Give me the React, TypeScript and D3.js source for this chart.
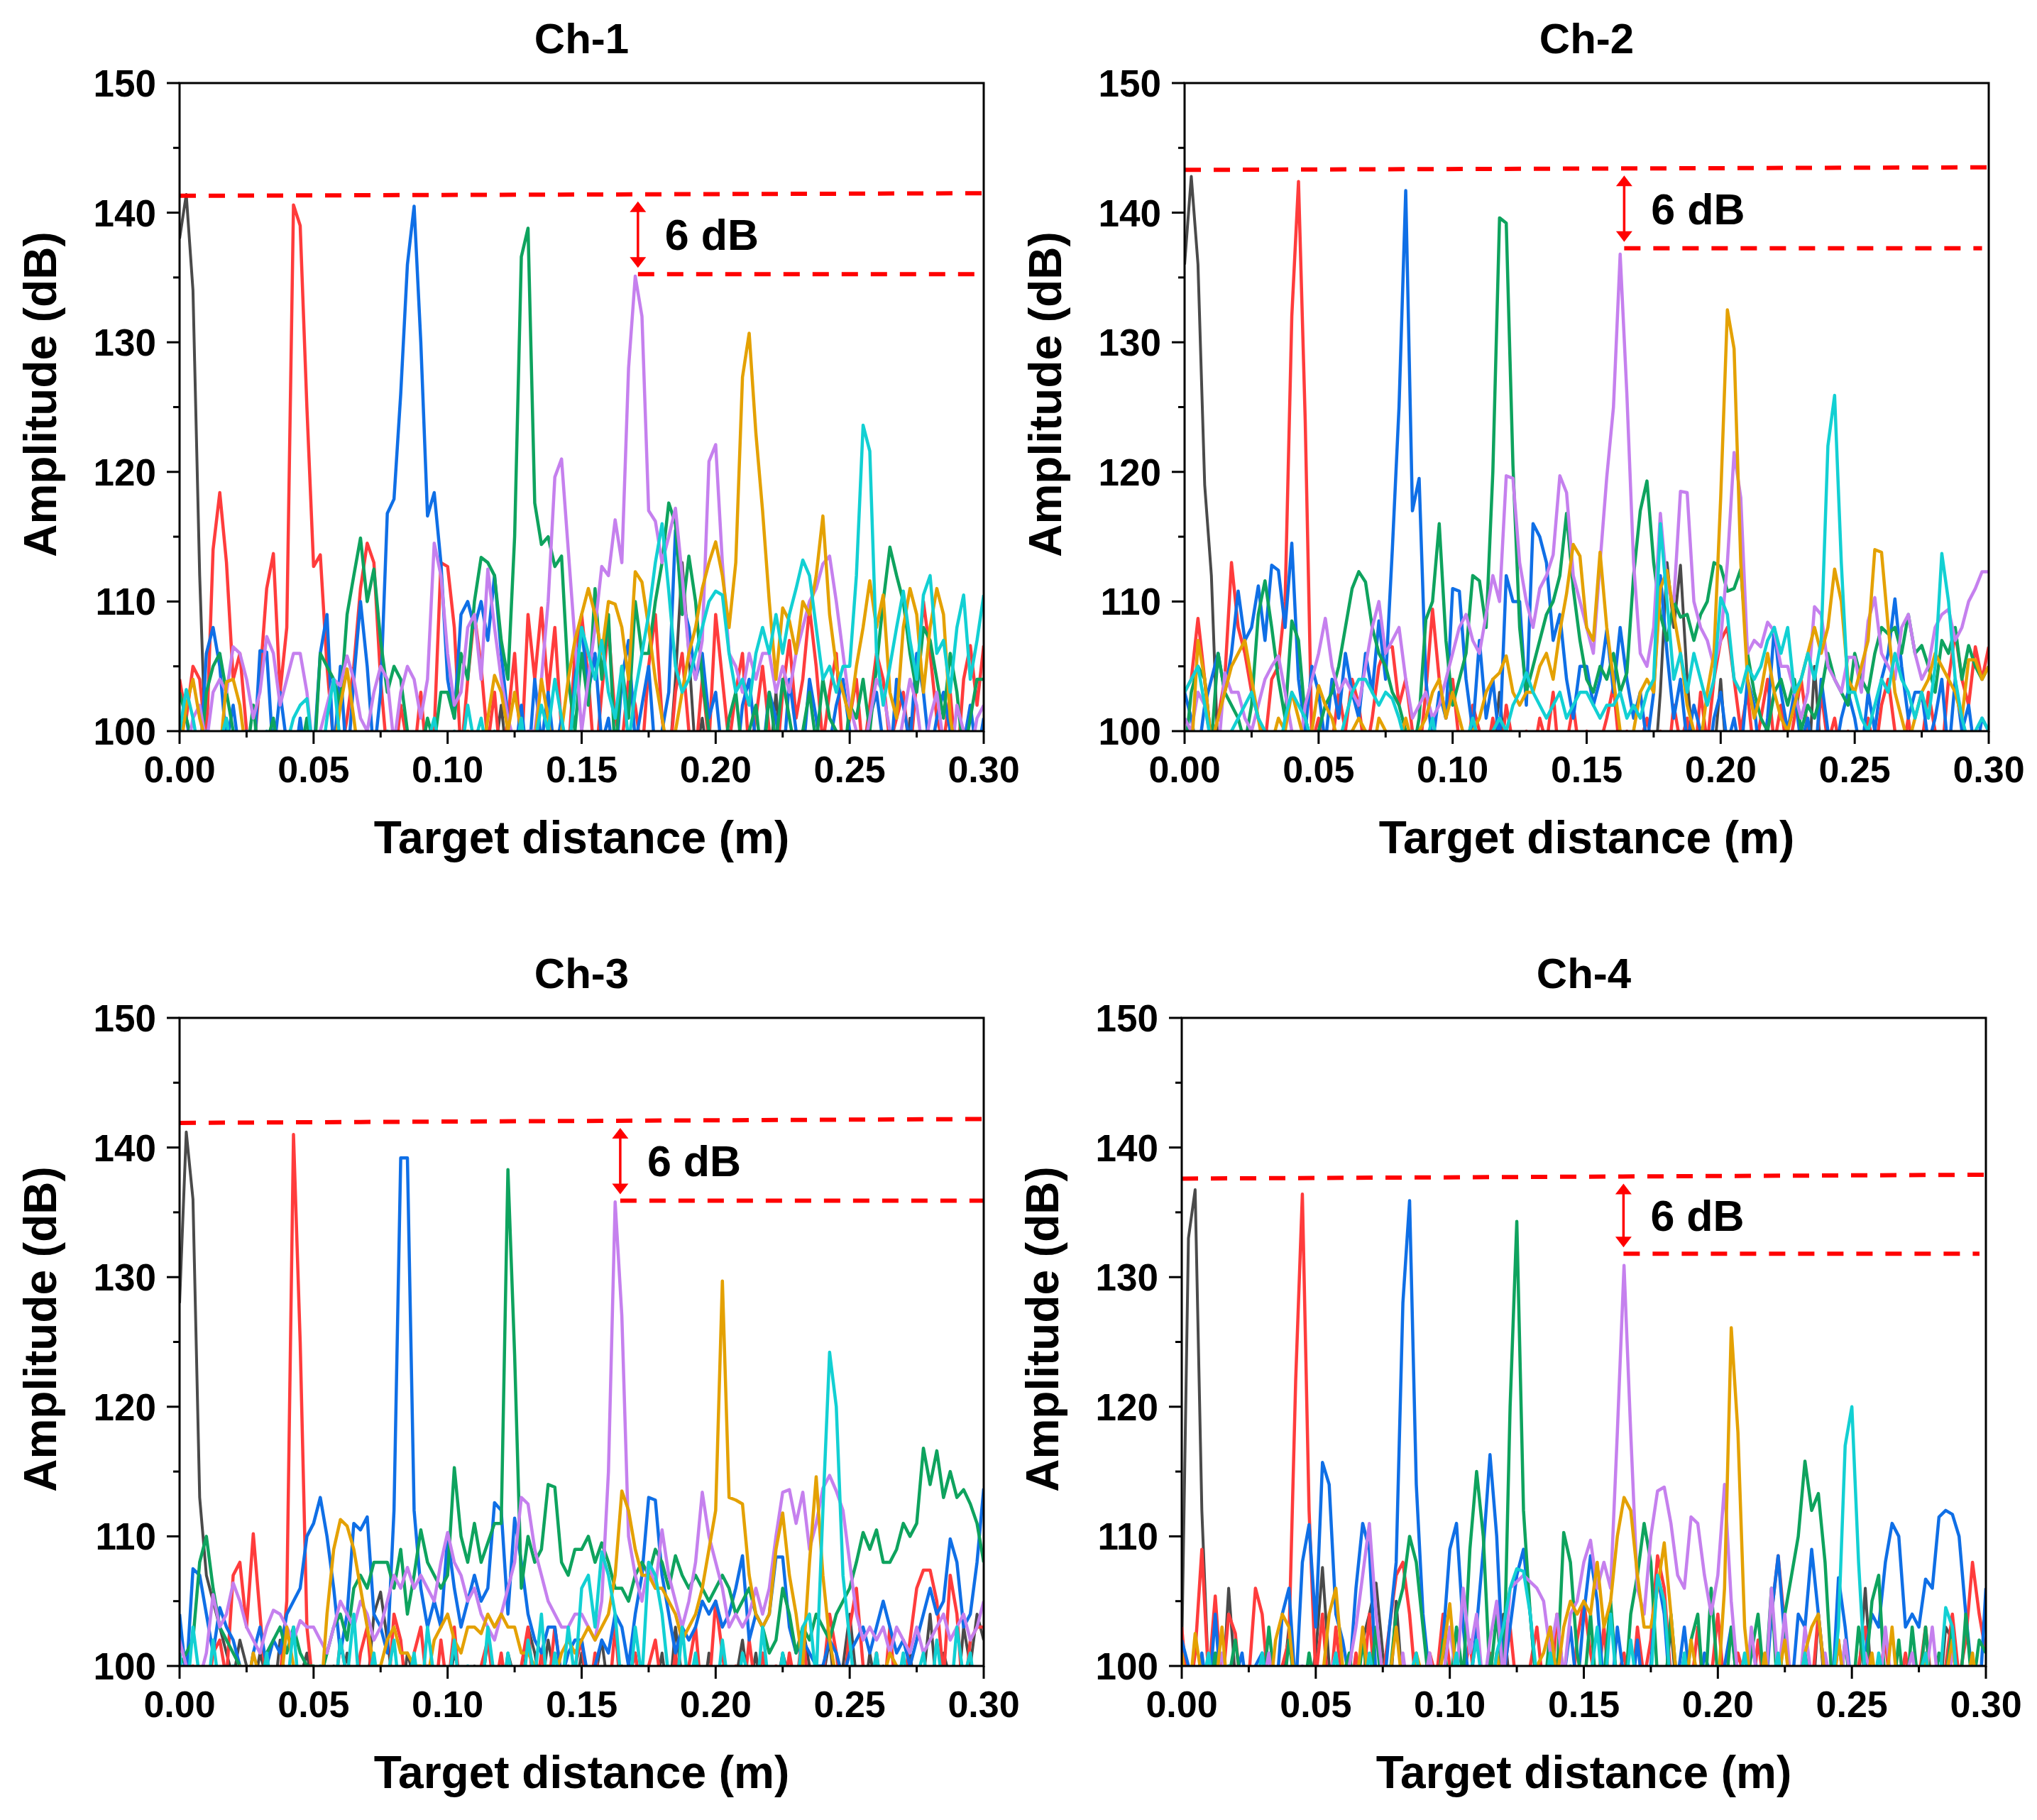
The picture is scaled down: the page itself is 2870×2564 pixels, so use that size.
import React from "react";
import * as d3 from "d3";

// sampling step of every trace (m)
const distanceStep = 0.0025;

const channelTitles = ["Ch-1", "Ch-2", "Ch-3", "Ch-4"];
const xTicks = [0, 0.05, 0.1, 0.15, 0.2, 0.25, 0.3];
const xMinorTicks = [0.025, 0.075, 0.125, 0.175, 0.225, 0.275];
const yTicks = [100, 110, 120, 130, 140, 150];
const yMinorTicks = [105, 115, 125, 135, 145];
const traceColors = ["#4a4a4a", "#ff3c3c", "#0f6fe6", "#0ea35e", "#c580ee", "#e4a102", "#12d0d3"];

// ---- Ch-1 (amplitude in dB, one value per distanceStep)
const ch1Black = [138,141.4,134,112,97,96,98,97,96,98, 97,96,98,97,99,96,97,98,96,97, 98,97,96,99,97,96,98,97,96,97, 98,96,97,99,96,98,97,96,97,98, 96,97,98,96,99,97,96,98,102,97, 96,98,97,96,97,98,96,97,99,96, 98,97,96,98,97,96,97,98,96,97, 99,96,98,97,104,113,106,98,101,97, 96,98,97,96,99,97,96,98,97,103, 96,97,98,96,97,98,96,97,99,96, 98,97,96,98,97,96,97,98,96,101, 97,96,98,97,96,97,98,96,97,96, 98];
const ch1Red = [104,101,105,104,99,114,118.4,113,104,106, 100,98,104,111,113.7,103,108,140.6,139,125, 112.7,113.6,105,99,98,101,105,111,114.5,113, 104,98,97,102,99,98,103,97,100,113, 112.7,108,98,104,109,105,99,103,97,101, 106,98,109,104,109.5,103,108,100,98,106, 109,104,97,103,108,101,99,104,102,98, 105,109,101,97,103,106,100,98,104,99, 109,104,99,103,106,98,101,105,100,97, 103,107,101,104,109.5,105,99,103,106,98, 101,104,98,102,106,104,99,101,103,98, 104,110,106,101,99,103,97,104,106.6,102, 106.6];
const ch1Blue = [100,101,98,97,106,108,105,99,102,98, 100,97,106.2,106.1,98,103,99,97,101,97, 98,106,109,98,105,97,104,110,105,98, 103,116.8,117.9,126,136,140.5,130,116.6,118.4,113, 104,101,109,110,108,110,107,112,106,101, 98,102,97,104,99,103,98,101,97,104, 108,103,106,99,101,97,104,107,99,102, 105,98,100,103,115.5,110,108,104,106,101, 103,98,100,97,102,104,99,98,103,101, 97,104,100,98,104,101,97,99,102,104, 100,97,98,101,103,99,97,104,102,99, 106,103,98,101,103,100,97,99,102,98, 101];
const ch1Green = [103,101,99,97,103,105,106,103,100,98, 98,102,97,99,101,97,98,96,98,101, 97,106,105,104,102,109,112,114.9,110,112.5, 107,103,105,104,100,97,98,101,99,103, 103,101,106,104,110,113.4,113,112,107,104, 115,136.6,138.8,117.6,114.4,115,112.7,113.5,104,100, 106,102,111,104,109,98,105,101,110,106, 106,110,113,117.6,116,109,113.5,110,104,100, 98,97,101,103,98,100,102,97,103,99, 104,101,98,100,103,99,104,101,100,97, 102,101,104,100,105,110,114.2,112,110,106, 103,108,107,104,101,106,103,98,101,104, 104];
const ch1Violet = [100,98,101,102,99,103,104,103,106.5,106, 104,101,103,107.3,106,102,104,106,106,103, 98,100,102,104,103.5,105.8,104,101,100,103, 105,104,99,103,105,104,101,104,114.5,112, 106,102,103,108,109,104,112.5,108,104,101, 99,98,100,100,104,110,119.6,121,114,107, 100,104,108,112.7,112,116.3,113,128,135.1,132, 117,116.2,113,115,117.2,112,106,104,107,120.8, 122.1,113,106,105,103,106,104,106,106,103, 105,103,106,108,110,111,112.9,113.5,110,106, 102,100,98,101,104,103,100,98,101,104, 102,98,101,103,99,97,102,100,98,101, 102];
const ch1Orange = [98,102,104,101,99,97,98,103.8,104,102, 98,97,99,96,98,97,99,96,98,97, 99,97,96,98,102,104.8,101,97,99,96, 98,97,99,96,98,97,96,98,97,99, 96,98,97,100,98,97,101,104.3,103,100, 103,100,97,99,104,101,97,100,104,107, 109,111,109,106,110,109.8,108,104,112.3,111.5, 108,104,101,98,100,103,106,108,111,113, 114.6,112,108,113,127.3,130.7,123,117,110,104, 109.5,108.5,106,110,109,112,116.6,109,105,103, 101,105,108,111.6,108,110.5,103,101,108,111, 109,103,108,111,109,101,98,97,99,98, 98];
const ch1Cyan = [100,103.2,101,98,100,97,99,101,97,98, 99,96,98,100,97,98,99,101,102,102.5, 98,97,101,104,99,97,98,96,99,97, 98,100,97,99,96,98,97,99,101,98, 97,100,98,102,99,101,98,100,97,99, 98,101,97,99,102,100,104,101,98,103, 108,106,104,107,103,101,105,99,103,106, 109,113,116,110.8,105,103,104,106,108,110, 110.8,110.5,106,103,104,102,106,108,106,109, 106,109,111,113.2,112,108,104,105,103,105, 105,112,123.6,121.6,106,102,105,108,110.8,107, 104,110.5,112,106,107,103,108,110.5,104,107, 110.5];

// ---- Ch-2
const ch2Black = [136,142.8,136,119,112,98,97,96,98,97, 96,98,97,99,96,97,98,96,97,99, 97,96,98,97,96,99,97,98,96,97, 98,97,96,99,97,96,98,97,99,96, 97,98,96,97,99,96,98,103,97,96, 98,97,96,98,99,97,96,98,97,96, 99,97,98,96,97,98,96,97,99,98, 96,103,113,108,112.8,104,98,97,96,98, 104,97,96,98,97,99,96,98,97,96, 98,97,99,96,105,98,97,96,98,97, 96,98,97,99,96,97,98,96,97,99, 97,96,98,97,96,99,97,98,96,97, 98];
const ch2Red = [103,104,108.7,104,99,101,104,113,108,106, 103,101,99,104,105,110,132,142.4,124,99, 101,97,99,103,100,104,102,98,101,105, 106.5,106.5,102,104,100,98,103,109.4,104,101, 104,99,97,102,100,98,101,97,102,99, 97,100,98,101,99,103,97,99,102,98, 100,97,99,101,103.5,98,100,97,99,101, 98,100,97,102,99,101,97,103,99,104, 107,108,104,100,103,98,101,104,99,102, 98,101,104,100,97,103,99,101,98,100, 97,99,101,98,102,104,100,98,101,97, 99,103,100,98,104,107.6,104,102,106.5,104, 106.5];
const ch2Blue = [103,101,98,102,104,106,103,106,110.8,107, 108,111.2,107,112.8,112.4,108,114.5,104,100,105, 103,99,104,101,106,103,101,106,103,108.5, 104,114,125,141.7,117,119.5,104,99,103,101, 111,110.8,104,100,107,101,104,99,112,110, 110,102,116,115,113,107,109,104,101,105, 105,102,104,107.8,103,108,104,101,103,99, 103,112,106,101,104,99,102,100,97,101, 103,99,101,98,104,102,97,101,108,103, 100,103,99,101,97,104,100,98,101,103, 101,98,103,100,104,106,110.2,105,101,103, 103,99,101,104,98,104,100,102,98,101, 100];
const ch2Green = [98,103,105,104,99,106,103,102,101,99, 102,109,111.6,108,104,101,108.5,107,101,99, 100,102,103,105,108,111,112.3,111.5,108,106, 105,103,102,100,98,101,108.6,110,116,107, 102,104,106,112,111.6,108,120,139.6,139.2,120.5, 108,103,105,107,109,110,112,116.8,111,107, 104,103,105,104,106,103,104.5,112,117,119.3, 113,109,107,110,108.8,109,107,109,110,113, 112.7,110.8,111,112.5,106,103,101,100,103,104, 102,104,100,102,101,103,106,104,103,102, 106,104,103,106,108,107.5,108,106,109,106, 106.6,105,103,107,106,108,104,106.6,105,104, 105];
const ch2Violet = [101,100,103,102,99,98,104.5,103,103,101, 100,102,104,105,105.8,103,100,98,102,104, 106,108.7,105,103,104,103,102,105,108,110, 106,107,108,104,101,102,103,101,102,104, 106,108,109,107,106,109,112,110,119.7,119.5, 113,110,108,111,112,113.6,119.7,118.4,112,110, 108,106,113,119.6,125,136.8,126,113,106,105, 108,116.8,111,110,118.5,118.4,110,108,107,105, 107,113,121.5,118,106,107,106.5,108.4,107.7,105, 105,103,101,103,109.6,109,105,104,103,105.7, 105.7,103,108.5,110.3,106,105,104,108,109,106, 104,105,108,109,109.4,107,108,110,111,112.3, 112.3];
const ch2Orange = [100,98,107,104,99,101,103,105,106,107, 104,101,98,99,101,100,103,101,99,100, 103.5,102,101,99,98,100,101,100,98,101, 100,98,99,101,99,100,101,103,104,101, 103,101,99,100,101,103,104,104.5,105.8,103, 102,103,103,105,106,104,107.7,110.6,114.4,113.5, 108,107,113.8,108,104,100,98,100,103,104, 103,111,112.4,109,106,102,100,99,103,106, 118,132.5,129.5,113,104,101,103,106,103,101, 100,102,104,106,108,106,108,112.5,110,104, 103,105,107,114,113.8,108,103,101,99,101, 103,104,106,105,104,103,101,105.5,105.5,104, 105];
const ch2Cyan = [103,104,105,102,99,98,98,100,101,102, 103,101,100,99,98,101,103,102,101,99, 98,99,98,99,101,103,104,104,103,102, 103,102.5,101,99,100,98,99,101,98,97, 98,97,99,101,99,98,100,101,100,102, 103,104.5,103,102,101,102,103,101,102,103, 103,102,101,102,102,103,101,102,101,103, 104,116,110,104,106,103,106,104,102,104, 110.3,109,104,103,105,104,105,107,108,106, 108,103,104,106,104,107,122,125.9,113,103, 103,101,100,102,104,103,106,104,103,101, 103,101,105,113.7,110,104,101,99,100,101, 100];

// ---- Ch-3
const ch3Black = [128,141.2,136,113,107,105,103,101,99,102, 100,98,101,99,97,102,98,97,99,101, 98,99,97,100,98,101,97,99,98,104, 105.7,102,98,97,101,99,98,100,97,99, 98,101,99,97,100,98,102,99,97,101, 99,97,103,101,98,102,99,97,100,98, 101,97,99,102,98,97,100,99,101,97, 99,98,101,97,103,99,98,100,97,101, 98,100,97,99,102,98,101,97,99,98, 101,99,97,103,100,98,99,102,97,100, 104,99,97,101,98,100,97,99,98,101, 97,99,104,98,101,99,97,103,100,104, 102];
const ch3Red = [101,97,100,98,97,101,102,99,107,108, 103,110.2,104,98,97,99,105,141,125,103, 98,97,99,97,102,99,97,101,103,97, 100,97,104,102,97,101,103,98,97,102, 98,103,97,99,97,100,102,98,101,97, 97,100,103,97,101,98,103,99,97,100, 102,97,101,98,97,103,97,99,101,97, 100,102,98,97,101,97,100,103,97,98, 105,101,97,100,97,102,98,101,97,100, 97,101,98,103,97,97,99,104,101,97, 103,106,100,97,101,97,103,97,98,102, 106,107.4,107.4,105,99,107,104,97,102,103, 103];
const ch3Blue = [104,99,107.5,107,104,101,104.5,103,102,100, 98,101,103,100,102,101,104,105,106,110, 111,113,110,106,101,104,111,110.5,111.5,104, 103,101,112,139.2,139.2,112,106,103,105,103, 110,106,103,105,107,105,106,112.6,112,104, 111.4,108,104,102,101,103,103,99,101,102, 102,99,100,102,101,104,103,100,104,107, 113,112.8,107,104,101,103,102,103,105,104, 105,103,104,106,108.5,102,104,103,104,108.4, 108.4,103,101,102,101,100,100,102,101,99, 101,102,103,101,103,105,103,101,102,100, 102,104,106,104,105,109.8,108,103,104,108, 113.7];
const ch3Green = [100,101,102,108,110,106,103,102,101,100, 99,98,98,101,102,103,101,103,101,100, 100,99,101,103,104,102,106,107,106,108, 108,108,106,109,104,107,110.5,108,107,106, 107,115.3,110,108,111,108,109.5,111,111,138.3, 124,106,110,108,109,114,113.8,108,107,109, 109,110,108,109.5,108,106,106,105,107,108, 107,109,108,106,108.5,107,106,107,106,105, 106,107,106,104,105,106,104,103,101,102, 106,104,101,103,102,104,103,102,104,105, 106,108,110.3,109,110.5,108,108,109,111,110, 111,116.8,114,116.6,113,115,113,113.6,112.5,111, 108];
const ch3Violet = [102,100,97,99,101,105.5,103,104,106.4,105, 103,102,101,103,104.3,104,103,102,103.5,103, 103,102,101,103,105,104,103,105,104,102, 103,105,107,106,107.6,106,107,106,105,108, 110.3,108,107,105,106,104,103,102,104,106, 108,113,112.5,109,107,105,104,103,103,104, 104,103,102,105,115,135.8,127,110,107,105, 108,106,110.5,107,105,103,105,108,113.4,110, 108,106,103,104,103,104,106,104,106,110, 113.4,113.6,111,113.4,109,111,113.7,114.7,113.5,112, 108,104,102,103,102,103,101,103,102,101, 103,101,102,103,104,102,103,104,102,103, 105];
const ch3Orange = [99,98,97,99,98,97,99,98,97,100, 98,101,99,97,99,98,103,100,98,99, 98,97,104,109,111.3,110.8,109,106,103,100, 100,102,103,101,101,100,100,99,102,103, 104,102,101,103,103,102.5,104,103,104,103, 103,101,101,100,99,100,99,101,102,101, 102,103,102,103,104,107,113.5,112,109,107, 107,106,106,105,104,102,103,104,106,109, 112,129.7,113,112.8,112.5,107,104,103,104,109, 111.8,107,104,100,108,114.6,107,102,99,98, 99,98,97,98,97,99,101,100,99,98, 99,97,98,97,99,98,97,99,98,97, 98];
const ch3Cyan = [101,97,103,99,97,102,98,97,100,97, 99,98,97,101,97,99,98,103,97,99, 97,100,98,97,102,99,104,97,98,101, 97,99,102,97,98,101,97,103,99,97, 98,102,97,100,98,97,103,99,97,101, 98,97,102,99,104,97,101,98,103,99, 106,107,103,108.8,107,104,98,97,103,99, 108,107,104,99,97,103,98,101,97,99, 97,102,98,97,101,99,97,103,98,97, 101,98,97,103,104,99,112,124.2,120,107, 102,97,99,98,101,97,99,98,101,97, 99,101,97,102,98,97,103,99,101,97, 100];

// ---- Ch-4
const ch4Black = [101,133,136.75,112,99,98,97,106,99,98, 97,96,98,97,99,98,103,97,96,98, 101,107.6,100,97,98,96,99,102,104,106.4, 101,97,105,98,96,97,98,96,97,98, 96,98,97,96,98,97,99,96,104,98, 97,96,98,97,96,98,97,99,96,97, 98,96,97,98,96,97,98,96,97,98, 97,96,98,103,97,96,98,97,96,98, 97,98,96,97,98,96,97,99,98,97, 96,98,97,98,96,104,98,97,96,98, 97,99,106,98,97,96,98,97,96,98, 97,96,98,97,103,102,97,96,98,97, 96];
const ch4Red = [103,97,101,109,99,105.4,98,104,102.5,97, 99,106,104,98,97,100,102,122,136.4,112, 99,104,97,103,98,97,101,98,104,97, 99,103,107,108,104,98,97,101,99,104, 100,97,99,102,97,98,101,97,99,103, 98,97,100,103,98,97,104,99,97,102, 105,101,98,103,97,99,101,97,103,99, 102,108.5,106,99,97,100,98,103,97,99, 104,98,97,101,99,97,102,98,104,108.5, 103,98,97,101,98,104,99,97,102,98, 97,100,103,97,99,102,97,98,101,97, 99,103,98,97,100,104,99,102,108,104, 101];
const ch4Blue = [102,100,98,101,97,104,97,100,99,101, 97,100,101,98,97,104,106,98,108,110.9, 103,115.7,114,104,102,99,106,111,109,99, 97,103,108,128,135.9,114,104,99,97,102, 109,111,103,98,103,109,116.3,110,99,103, 107,109,104,98,97,101,97,99,103,98, 104,108.5,105,98,97,103,99,97,102,97, 100,107,104,97,99,103,98,97,101,99, 97,100,103,98,97,102,99,97,104,108.5, 102,98,104,103,109,104,99,97,106.8,103, 98,97,101,104,103,108,111,110,103,104, 103,106.7,106,111.5,112,111.7,110,104,99,97, 106];
const ch4Green = [100,97,99,98,97,101,97,99,102,98, 97,99,97,103,98,97,102,98,97,101, 98,97,100,97,99,101,97,102,98,103, 97,99,104,106,110,108,103,98,97,102, 98,103,99,109,115,110,99,104,98,120, 134.3,112,104,98,97,103,99,110.3,108,101, 98,104,97,99,105,98,97,104,107,111, 108,99,97,104,98,97,102,104,97,106, 99,97,103,98,97,101,104,98,106,97, 104,107,110,115.8,112,113.3,108,99,97,102, 97,103,99,105,107,98,97,102,97,103, 98,103,97,101,99,103,97,104,98,102, 101];
const ch4Violet = [100,97,99,98,97,99,101,97,98,97, 99,97,98,101,97,99,98,97,100,97, 98,97,99,101,97,100,103,107,111,104, 99,97,98,101,97,99,98,101,97,99, 103,99,106,101,104,98,102,105,99,106, 106.5,107,106.5,106,105,101,104,99,104,105, 108,109.7,106,108,106,118,130.9,118,106,104, 110,113.5,113.8,111,107,106,111.5,111,107,104, 107,114,105,99,97,103,98,97,106,99, 104,98,97,103,99,97,101,98,97,102, 98,97,101,99,97,103,98,97,99,101, 97,99,103,98,97,101,99,97,98,100, 99];
const ch4Orange = [101,97,102.5,99,97,98,103,97,98,97, 99,97,98,97,102,104,103,98,98,97, 97,99,104,106,100,97,98,103,98,97, 98,99,103,98,97,101,99,97,98,101, 104.8,99,97,99,97,98,97,101,98,97, 99,97,98,100,101,103,99,103,105,104, 105,104,108,103,105,110,113,112,107,103, 103,106,109.5,104,98,97,102,99,97,98, 98,106,126.1,118,103,98,97,101,97,99, 102,97,98,101,103,104,99,97,102,98, 97,99,98,101,97,98,103,97,99,98, 97,101,98,97,99,102,97,98,101,97, 99];
const ch4Cyan = [100,97,99,98,101,97,98,100,97,99, 97,98,101,97,99,98,97,100,98,97, 99,97,98,101,97,99,98,97,101,98, 97,100,98,97,99,101,97,98,99,97, 98,101,97,99,102,98,97,101,103,106, 107.5,107.3,104,99,97,101,98,97,100,98, 97,99,103,97,104,98,97,102,98,97, 99,107,105,98,97,101,97,99,98,97, 100,97,99,98,101,97,99,97,98,101, 97,99,98,101,97,99,97,98,103,117, 120,108,99,97,101,98,97,100,98,97, 99,101,97,98,104.5,103,97,99,98,97, 99];

const channelTraces = [
  [ch1Black, ch1Red, ch1Blue, ch1Green, ch1Violet, ch1Orange, ch1Cyan],
  [ch2Black, ch2Red, ch2Blue, ch2Green, ch2Violet, ch2Orange, ch2Cyan],
  [ch3Black, ch3Red, ch3Blue, ch3Green, ch3Violet, ch3Orange, ch3Cyan],
  [ch4Black, ch4Red, ch4Blue, ch4Green, ch4Violet, ch4Orange, ch4Cyan],
];

// 6 dB markers: upper dashed level (left end, right end), lower level, arrow position, lower line end
const upperLevelStart = [141.3, 143.3, 141.9, 137.6];
const upperLevelEnd = [141.5, 143.5, 142.2, 137.9];
const lowerLevel = [135.25, 137.25, 135.9, 131.8];
const markerDistance = [0.171, 0.164, 0.1644, 0.1648];
const lowerLineEnd = [0.3, 0.2975, 0.3, 0.2976];

// layout
const plotW = 1133;
const plotH = 913;
const panelOrigins = [
  [253, 117],
  [1669, 117],
  [253, 1434],
  [1665, 1434],
];
const font = "'Liberation Sans', Arial, Helvetica, sans-serif";

function Panel({ index }: { index: number }) {
  const [left, top] = panelOrigins[index];
  const x = d3.scaleLinear().domain([0, 0.3]).range([0, plotW]);
  const y = d3.scaleLinear().domain([100, 150]).range([plotH, 0]);
  const line = d3
    .line<number>()
    .x((_, i) => x(i * distanceStep))
    .y((d) => y(d));
  const clipId = `clip-${index}`;

  const ax = x(markerDistance[index]);
  const yTop = y(upperLevelStart[index] + (upperLevelEnd[index] - upperLevelStart[index]) * (markerDistance[index] / 0.3));
  const yLow = y(lowerLevel[index]);
  const tipTop = yTop + 10;
  const tipLow = yLow - 9;
  const headL = 15;
  const headW = 11.5;

  return (
    <g transform={`translate(${left},${top})`}>
      <defs>
        <clipPath id={clipId}>
          <rect x={0} y={0} width={plotW} height={plotH} />
        </clipPath>
      </defs>
      <text x={plotW / 2} y={-42} textAnchor="middle" fontFamily={font} fontWeight="bold" fontSize={60}>
        {channelTitles[index]}
      </text>

      <g clipPath={`url(#${clipId})`}>
        {channelTraces[index].map((vals, k) => (
          <path
            key={k}
            d={line(vals) ?? ""}
            fill="none"
            stroke={traceColors[k]}
            strokeWidth={k === 0 ? 4 : 4.5}
            strokeLinejoin="round"
          />
        ))}
      </g>

      {/* 6 dB marker */}
      <line
        x1={x(0)}
        x2={x(0.3)}
        y1={y(upperLevelStart[index])}
        y2={y(upperLevelEnd[index])}
        stroke="#ff0000"
        strokeWidth={6}
        strokeDasharray="23 18"
      />
      <line
        x1={ax}
        x2={x(lowerLineEnd[index])}
        y1={yLow}
        y2={yLow}
        stroke="#ff0000"
        strokeWidth={6}
        strokeDasharray="23 18"
      />
      <line x1={ax} x2={ax} y1={tipTop + headL - 2} y2={tipLow - headL + 2} stroke="#ff0000" strokeWidth={3.5} />
      <path d={`M${ax},${tipTop}L${ax - headW},${tipTop + headL}L${ax + headW},${tipTop + headL}Z`} fill="#ff0000" />
      <path d={`M${ax},${tipLow}L${ax - headW},${tipLow - headL}L${ax + headW},${tipLow - headL}Z`} fill="#ff0000" />
      <text
        x={ax + 38}
        y={(yTop + yLow) / 2}
        dy="0.36em"
        fontFamily={font}
        fontWeight="bold"
        fontSize={61}
      >
        6 dB
      </text>

      {/* frame */}
      <rect x={0} y={0} width={plotW} height={plotH} fill="none" stroke="#000" strokeWidth={3} />

      {/* x axis */}
      {xTicks.map((t) => (
        <g key={`xt${t}`}>
          <line x1={x(t)} x2={x(t)} y1={plotH} y2={plotH + 18} stroke="#000" strokeWidth={3} />
          <text x={x(t)} y={plotH + 72} textAnchor="middle" fontFamily={font} fontWeight="bold" fontSize={52}>
            {t.toFixed(2)}
          </text>
        </g>
      ))}
      {xMinorTicks.map((t) => (
        <line key={`xm${t}`} x1={x(t)} x2={x(t)} y1={plotH} y2={plotH + 9} stroke="#000" strokeWidth={3} />
      ))}
      <text x={plotW / 2} y={plotH + 172} textAnchor="middle" fontFamily={font} fontWeight="bold" fontSize={64}>
        Target distance (m)
      </text>

      {/* y axis */}
      {yTicks.map((t) => (
        <g key={`yt${t}`}>
          <line x1={-18} x2={0} y1={y(t)} y2={y(t)} stroke="#000" strokeWidth={3} />
          <text x={-33} y={y(t)} dy="0.36em" textAnchor="end" fontFamily={font} fontWeight="bold" fontSize={53}>
            {t}
          </text>
        </g>
      ))}
      {yMinorTicks.map((t) => (
        <line key={`ym${t}`} x1={-9} x2={0} y1={y(t)} y2={y(t)} stroke="#000" strokeWidth={3} />
      ))}
      <text
        transform={`translate(-174,${plotH / 2 - 18}) rotate(-90)`}
        textAnchor="middle"
        fontFamily={font}
        fontWeight="bold"
        fontSize={64}
      >
        Amplitude (dB)
      </text>
    </g>
  );
}

export default function App() {
  return (
    <div style={{ position: "absolute", left: 0, top: 0 }}>
      <svg width={2870} height={2564} viewBox="0 0 2870 2564" style={{ display: "block", background: "#fff" }}>
        <rect width={2870} height={2564} fill="#fff" />
        {channelTitles.map((_, i) => (
          <Panel key={i} index={i} />
        ))}
      </svg>
    </div>
  );
}
